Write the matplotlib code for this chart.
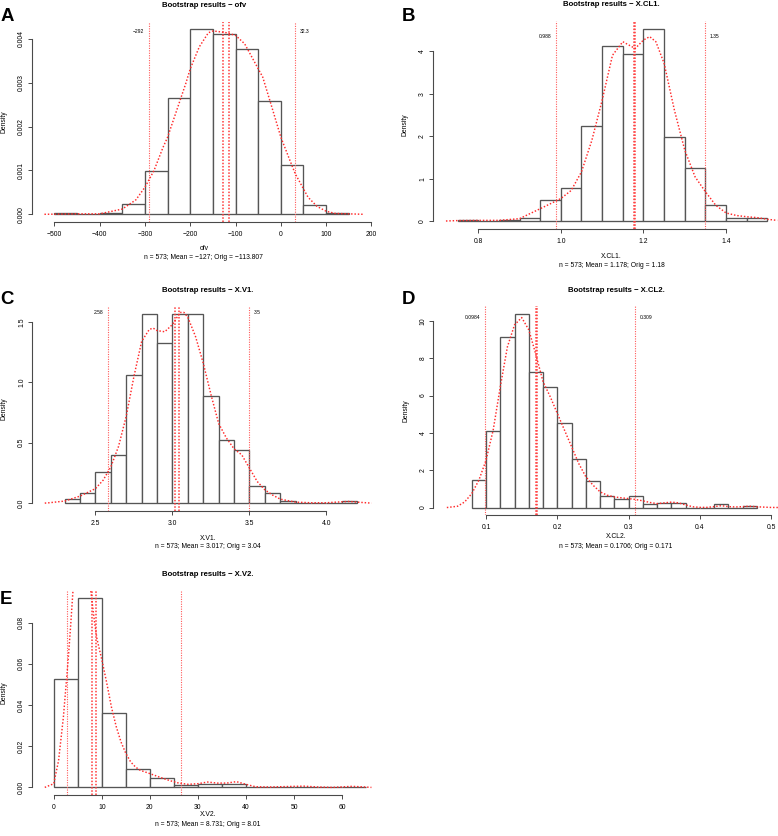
import numpy as np
import matplotlib
matplotlib.use("Agg")
import matplotlib.pyplot as plt

plt.rcParams['font.family'] = ['Liberation Sans', 'DejaVu Sans']

n_boot = 573

# A - ofv
ofv_edges = [-500, -450, -400, -350, -300, -250, -200, -150, -100, -50, 0, 50, 100, 150]
ofv_counts = [1, 0, 1, 7, 28, 76, 121, 118, 108, 74, 32, 6, 1]
ofv_kde_x = [-522, -450, -400, -350, -320, -300, -280, -260, -250, -230, -210, -200, -180, -160,
             -150, -140, -120, -100, -80, -60, -40, -20, 0, 20, 32, 40, 60, 80, 100, 120, 150, 182]
ofv_kde_y = [0, 0.00001, 0.00001, 0.00012, 0.00033, 0.00062, 0.001, 0.00153, 0.00176, 0.00237,
             0.00298, 0.00332, 0.00382, 0.00414, 0.00418, 0.00417, 0.00414, 0.00408, 0.00389,
             0.00351, 0.00313, 0.00245, 0.00176, 0.00123, 0.00092, 0.00077, 0.00039, 0.00018,
             0.00007, 0.00002, 0.00001, 0]
ofv_ci = [-292, 32.3]
ofv_ci_labels = ['\u2212292', '32.3']
ofv_mean, ofv_orig = -127, -113.807
ofv_xticks = [-500, -400, -300, -200, -100, 0, 100, 200]
ofv_xticklabels = ['\u2212500', '\u2212400', '\u2212300', '\u2212200', '\u2212100', '0', '100', '200']
ofv_yticks = [0, 0.001, 0.002, 0.003, 0.004]
ofv_yticklabels = ['0.000', '0.001', '0.002', '0.003', '0.004']

# B - X.CL1.
cl1_edges = [0.75, 0.8, 0.85, 0.9, 0.95, 1.0, 1.05, 1.1, 1.15, 1.2, 1.25, 1.3, 1.35, 1.4, 1.45, 1.5]
cl1_counts = [1, 0, 1, 2, 14, 22, 64, 118, 113, 130, 57, 36, 11, 2, 2]
cl1_kde_x = [0.722, 0.75, 0.8, 0.85, 0.9, 0.95, 0.988, 1.0, 1.025, 1.05, 1.075, 1.1, 1.125, 1.15,
             1.165, 1.18, 1.2, 1.215, 1.23, 1.25, 1.275, 1.3, 1.325, 1.35, 1.375, 1.4, 1.425,
             1.45, 1.475, 1.5, 1.524]
cl1_kde_y = [0, 0.01, 0.015, 0.015, 0.055, 0.29, 0.47, 0.53, 0.72, 1.16, 1.9, 2.85, 3.91, 4.23,
             4.15, 4.07, 4.27, 4.35, 4.23, 3.72, 2.61, 1.67, 1.04, 0.69, 0.37, 0.19, 0.13,
             0.10, 0.08, 0.04, 0.015]
cl1_ci = [0.988, 1.35]
cl1_ci_labels = ['0.988', '1.35']
cl1_mean, cl1_orig = 1.178, 1.18
cl1_xticks = [0.8, 1.0, 1.2, 1.4]
cl1_xticklabels = ['0.8', '1.0', '1.2', '1.4']
cl1_yticks = [0, 1, 2, 3, 4]
cl1_yticklabels = ['0', '1', '2', '3', '4']

# C - X.V1.
v1_edges = [2.3, 2.4, 2.5, 2.6, 2.7, 2.8, 2.9, 3.0, 3.1, 3.2, 3.3, 3.4, 3.5, 3.6, 3.7, 3.8,
            3.9, 4.0, 4.1, 4.2]
v1_counts = [2, 5, 15, 23, 61, 90, 76, 90, 90, 51, 30, 25, 8, 5, 1, 0, 0, 0, 1]
v1_kde_x = [2.171, 2.2, 2.3, 2.4, 2.5, 2.55, 2.6, 2.65, 2.7, 2.75, 2.8, 2.85, 2.875, 2.9, 2.95,
            3.0, 3.05, 3.075, 3.1, 3.15, 3.2, 3.25, 3.3, 3.35, 3.4, 3.45, 3.5, 3.55, 3.6, 3.65,
            3.7, 3.8, 3.9, 4.0, 4.1, 4.15, 4.2, 4.292]
v1_kde_y = [0, 0.003, 0.017, 0.058, 0.12, 0.19, 0.30, 0.47, 0.72, 1.05, 1.34, 1.44, 1.45, 1.43,
            1.42, 1.48, 1.58, 1.58, 1.54, 1.38, 1.16, 0.90, 0.66, 0.54, 0.45, 0.40, 0.29, 0.18,
            0.11, 0.067, 0.033, 0.008, 0.003, 0.003, 0.011, 0.014, 0.008, 0]
v1_ci = [2.58, 3.5]
v1_ci_labels = ['2.58', '3.5']
v1_mean, v1_orig = 3.017, 3.04
v1_xticks = [2.5, 3.0, 3.5, 4.0]
v1_xticklabels = ['2.5', '3.0', '3.5', '4.0']
v1_yticks = [0, 0.5, 1.0, 1.5]
v1_yticklabels = ['0.0', '0.5', '1.0', '1.5']

# D - X.CL2.
cl2_edges = [0.08, 0.10, 0.12, 0.14, 0.16, 0.18, 0.20, 0.22, 0.24, 0.26, 0.28, 0.30, 0.32, 0.34,
             0.36, 0.38, 0.40, 0.42, 0.44, 0.46, 0.48]
cl2_counts = [17, 47, 105, 119, 83, 74, 52, 30, 16, 7, 5, 7, 2, 3, 3, 0, 0, 2, 0, 1]
cl2_kde_x = [0.045, 0.06, 0.07, 0.08, 0.09, 0.10, 0.11, 0.12, 0.13, 0.14, 0.15, 0.16, 0.17, 0.18,
             0.19, 0.20, 0.21, 0.22, 0.23, 0.24, 0.25, 0.26, 0.27, 0.28, 0.29, 0.30, 0.31, 0.32,
             0.33, 0.34, 0.35, 0.36, 0.37, 0.38, 0.39, 0.40, 0.41, 0.42, 0.43, 0.44, 0.45, 0.46,
             0.47, 0.48, 0.50, 0.52]
cl2_kde_y = [0, 0.07, 0.3, 0.75, 1.47, 2.54, 4.15, 6.48, 8.62, 9.79, 10.18, 9.52, 8.18, 6.74,
             5.94, 5.04, 4.15, 3.26, 2.36, 1.65, 1.2, 0.84, 0.66, 0.57, 0.52, 0.48, 0.43, 0.36,
             0.27, 0.21, 0.25, 0.29, 0.25, 0.14, 0.04, 0.01, 0.01, 0.05, 0.1, 0.05, 0.03, 0.05,
             0.07, 0.04, 0.005, 0]
cl2_ci = [0.0984, 0.309]
cl2_ci_labels = ['0.0984', '0.309']
cl2_mean, cl2_orig = 0.1706, 0.171
cl2_xticks = [0.1, 0.2, 0.3, 0.4, 0.5]
cl2_xticklabels = ['0.1', '0.2', '0.3', '0.4', '0.5']
cl2_yticks = [0, 2, 4, 6, 8, 10]
cl2_yticklabels = ['0', '2', '4', '6', '8', '10']

# E - X.V2.
v2_edges = [0, 5, 10, 15, 20, 25, 30, 35, 40, 45, 50, 55, 60, 65]
v2_counts = [151, 264, 103, 26, 13, 3, 5, 5, 0, 1, 1, 0, 1]
v2_kde_x = [-1.87, 0, 1, 2, 3, 3.5, 4, 5, 6, 7, 7.7, 8.5, 9, 10, 11, 12, 13, 14, 15, 16, 17, 18,
            20, 22, 24, 26, 28, 30, 32, 34, 36, 38, 40, 42, 45, 50, 52, 55, 58, 62, 64, 66.1]
v2_kde_y = [0, 0.0018, 0.013, 0.034, 0.062, 0.078, 0.0955, 0.108, 0.112, 0.105, 0.0955, 0.08,
            0.072, 0.062, 0.051, 0.039, 0.0295, 0.022, 0.0165, 0.0124, 0.0099, 0.0083, 0.0067,
            0.005, 0.0034, 0.0021, 0.0015, 0.0018, 0.0026, 0.0021, 0.0021, 0.0028, 0.0015,
            0.0003, 0.0002, 0.0005, 0.0006, 0.0002, 0.0, 0.0005, 0.0003, 0]
v2_ci = [2.66, 26.4]
v2_ci_labels = ['2.66', '26.4']
v2_mean, v2_orig = 8.731, 8.01
v2_xticks = [0, 10, 20, 30, 40, 50, 60]
v2_xticklabels = ['0', '10', '20', '30', '40', '50', '60']
v2_yticks = [0, 0.02, 0.04, 0.06, 0.08]
v2_yticklabels = ['0.00', '0.02', '0.04', '0.06', '0.08']

W, H = 778, 836
fig = plt.figure(figsize=(W / 100, H / 100), dpi=100)

AX_COL = '#4a4a4a'
PT = 0.72  # points per pixel at 100 dpi


def add_axes_px(left, top, right, bottom):
    return fig.add_axes([left / W, 1 - bottom / H, (right - left) / W, (bottom - top) / H])


def panel(box, name, sub, edges, counts, kde_x, kde_y, ci, ci_labels, mean, orig,
          xticks, xticklabels, yticks, yticklabels, lab_off):
    ax = add_axes_px(*box)
    edges = np.array(edges, dtype=float)
    widths = np.diff(edges)
    dens = np.array(counts) / (n_boot * widths)

    ax.bar(edges[:-1], dens, width=widths, align='edge', facecolor='white',
           edgecolor='#555555', linewidth=0.95, zorder=1)
    ax.plot(kde_x, kde_y, color='#ff2a2a', linestyle=(0, (1, 1.3)), linewidth=1.05, zorder=3)
    for v in ci:
        ax.axvline(v, color='#ff5a5a', linestyle=(0, (1, 1.2)), linewidth=0.8, zorder=2)
    for v in (mean, orig):
        ax.axvline(v, color='#ff3a3a', linestyle=(0, (1, 1.1)), linewidth=1.1, zorder=2)

    ytop = max(kde_y)
    ax.annotate(ci_labels[0], xy=(ci[0], ytop), xytext=(-4.5 * PT, 0), textcoords='offset points',
                ha='right', va='center', fontsize=3.6, annotation_clip=True, clip_on=True)
    ax.annotate(ci_labels[1], xy=(ci[1], ytop), xytext=(4.5 * PT, 0), textcoords='offset points',
                ha='left', va='center', fontsize=3.6, annotation_clip=True, clip_on=True)

    # R style limits: data range padded by 4%
    xr = kde_x[-1] - kde_x[0]
    ax.set_xlim(kde_x[0] - 0.04 * xr, kde_x[-1] + 0.04 * xr)
    hmax = dens.max()
    ax.set_ylim(-0.04 * hmax, 1.04 * hmax)

    for s in ('top', 'right'):
        ax.spines[s].set_visible(False)
    ax.spines['left'].set_bounds(yticks[0], yticks[-1])
    ax.spines['bottom'].set_bounds(xticks[0], xticks[-1])
    for s in ('left', 'bottom'):
        ax.spines[s].set_color(AX_COL)
        ax.spines[s].set_linewidth(0.8)
    ax.set_xticks(xticks)
    ax.set_xticklabels(xticklabels)
    ax.set_yticks(yticks)
    ax.set_yticklabels(yticklabels, rotation=90, va='center')
    ax.tick_params(axis='both', length=3.0, width=0.7, color=AX_COL, labelsize=4.9)
    ax.tick_params(axis='x', pad=3.4)
    ax.tick_params(axis='y', pad=1.8)

    ax.annotate('Bootstrap results \u2212 ' + name, xy=(0.5, 1), xycoords='axes fraction',
                xytext=(0, 16 * PT), textcoords='offset points', ha='center', va='center',
                fontsize=5.6, fontweight='bold')
    ax.annotate('Density', xy=(0, 0.5), xycoords='axes fraction', xytext=(-27.5 * PT, 0),
                textcoords='offset points', ha='center', va='center', rotation=90, fontsize=4.9)
    ax.annotate(name, xy=(0.5, 0), xycoords='axes fraction', xytext=(0, -lab_off[0] * PT),
                textcoords='offset points', ha='center', va='center', fontsize=4.9)
    ax.annotate(sub, xy=(0.5, 0), xycoords='axes fraction', xytext=(0, -lab_off[1] * PT),
                textcoords='offset points', ha='center', va='center', fontsize=4.9)
    return ax


panel((31.7, 21.7, 376, 221.7), 'ofv', 'n = 573; Mean = \u2212127; Orig = \u2212113.807',
      ofv_edges, ofv_counts, ofv_kde_x, ofv_kde_y, ofv_ci, ofv_ci_labels, ofv_mean, ofv_orig,
      ofv_xticks, ofv_xticklabels, ofv_yticks, ofv_yticklabels, (26.6, 35.6))
panel((432.7, 21, 790.6, 228.7), 'X.CL1.', 'n = 573; Mean = 1.178; Orig = 1.18',
      cl1_edges, cl1_counts, cl1_kde_x, cl1_kde_y, cl1_ci, cl1_ci_labels, cl1_mean, cl1_orig,
      cl1_xticks, cl1_xticklabels, cl1_yticks, cl1_yticklabels, (27.3, 37))
panel((31.7, 306, 384.5, 510.7), 'X.V1.', 'n = 573; Mean = 3.017; Orig = 3.04',
      v1_edges, v1_counts, v1_kde_x, v1_kde_y, v1_ci, v1_ci_labels, v1_mean, v1_orig,
      v1_xticks, v1_xticklabels, v1_yticks, v1_yticklabels, (27.6, 36))
panel((433.3, 306, 799, 515.3), 'X.CL2.', 'n = 573; Mean = 0.1706; Orig = 0.171',
      cl2_edges, cl2_counts, cl2_kde_x, cl2_kde_y, cl2_ci, cl2_ci_labels, cl2_mean, cl2_orig,
      cl2_xticks, cl2_xticklabels, cl2_yticks, cl2_yticklabels, (21.3, 31.3))
panel((31.7, 590, 384.5, 795), 'X.V2.', 'n = 573; Mean = 8.731; Orig = 8.01',
      v2_edges, v2_counts, v2_kde_x, v2_kde_y, v2_ci, v2_ci_labels, v2_mean, v2_orig,
      v2_xticks, v2_xticklabels, v2_yticks, v2_yticklabels, (20, 30))

# panel letters
for letter, (px, py) in zip('ABCDE', [(1, 16.7), (401.7, 16.7), (0, 299), (401.7, 299), (0, 600)]):
    fig.text(px / W, 1 - py / H, letter, fontsize=13.4, fontweight='bold', ha='left', va='center')

fig.savefig('out.png', dpi=100)
